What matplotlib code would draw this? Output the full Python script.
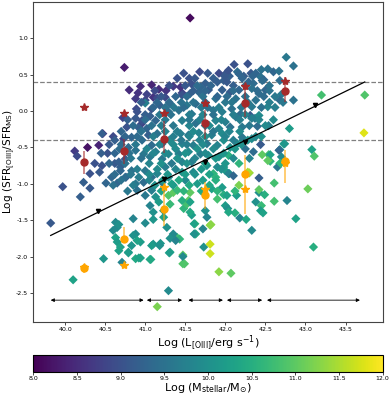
import matplotlib
matplotlib.use("Agg")
import matplotlib.pyplot as plt
import numpy as np

plt.rcParams['axes.unicode_minus'] = False

# individual galaxies: L[OIII], SFR ratio, stellar mass
lum_oiii = [
    41.56, 40.74, 41.68, 40.80, 40.94, 41.08, 41.17, 41.26, 41.35, 41.46, 40.88, 41.00, 41.10, 41.00,
    40.89, 40.77, 40.95, 40.47, 40.60, 40.42, 40.28, 40.12, 40.15, 40.53, 40.73, 40.62, 40.37, 40.43,
    40.31, 40.23, 39.97, 40.51, 40.76, 40.69, 39.82, 40.19, 40.31, 40.10, 40.48, 40.71,
    # lower cloud below the fit
    40.63, 40.65, 40.63, 40.65, 40.69, 40.79, 40.85, 40.88, 40.94, 40.88, 40.94, 41.06, 41.10, 41.19,
    41.31, 41.29, 41.15, 41.47, 41.47, 41.40, 41.43, 41.27, 41.35, 41.62, 41.62, 41.58, 41.48, 41.52,
    41.54, 41.23, 40.67, 40.60, 41.00, 41.10, 40.67, 40.85, 40.90, 40.83, 40.79, 40.92, 41.07, 41.08,
    41.18, 41.30, 41.31, 41.38, 41.47, 41.49, 41.63, 41.73, 41.81, 41.81, 41.81, 41.92, 42.07, 42.18,
    42.26, 42.33, 42.88,
    # right side lower
    41.98, 42.14, 42.42, 42.49, 42.61, 42.77, 43.10, 42.12, 42.00, 42.03, 42.45, 42.44, 42.47, 41.75,
    41.77, 41.72, 41.61, 41.61, 41.82,
    # upper right
    42.76, 42.85, 42.28, 42.11, 42.15, 42.32, 42.44, 42.53, 42.60, 42.67, 41.92, 42.01, 42.05, 41.98,
    42.23, 42.29, 42.48, 42.68, 42.70, 42.68, 42.85, 42.50, 42.53, 42.31, 42.19, 42.37, 42.40, 42.54,
    42.80, 43.20, 43.74, 43.73, 43.08, 43.11, 42.73, 42.68, 42.70, 42.68, 42.54, 42.56, 42.44, 42.46,
    42.42, 42.30, 42.17, 42.17, 42.42, 42.61, 43.03, 41.88, 42.05, 41.98, 42.22, 42.38, 42.56, 42.53,
    42.67, 42.74, 42.65, 42.69,
    # top of the cloud
    40.91, 41.02, 41.15, 41.25, 41.08, 41.18, 40.90, 40.72, 40.88, 40.96, 41.06, 41.13, 40.92, 41.02,
    41.29, 41.31, 41.99, 42.04, 42.17, 42.21, 42.34, 42.45, 41.55, 41.44, 41.58, 41.75, 41.69, 41.90,
    42.02, 42.10, 42.35, 42.46, 41.46, 41.56, 41.67, 41.79, 41.96, 42.06, 42.17, 42.33, 42.42, 42.38,
    41.52, 41.63, 41.88, 42.00, 42.13, 41.42, 41.58, 41.85, 41.96, 42.08, 42.33, 41.46, 41.63, 41.88,
    42.00, 42.13, 42.33, 42.42, 41.92, 42.06, 42.21,
    # middle-left of the cloud
    40.46, 40.46, 40.58, 40.65, 40.67, 40.69, 40.75, 40.75, 40.83, 40.88, 40.92, 40.98, 40.90, 41.00,
    41.08, 41.13, 41.17, 41.06, 41.10, 41.23, 41.31, 41.29, 41.35, 41.00, 41.08, 41.15, 41.21, 41.29,
    41.33, 40.83, 40.96, 41.04, 41.08, 41.15, 41.21, 40.88, 40.98, 41.06, 41.13, 41.21, 41.29, 41.33,
    41.25, 40.79,
    # middle-right of the cloud
    41.44, 41.54, 41.67, 41.83, 41.96, 42.21, 42.33, 41.46, 41.60, 41.77, 41.90, 42.06, 42.15, 42.35,
    41.42, 41.54, 41.69, 41.79, 41.92, 42.04, 41.46, 41.58, 41.77, 41.90, 42.00, 41.85, 42.04, 42.10,
    42.28, 41.46, 41.60, 41.50, 41.40, 41.65, 41.56, 41.83, 41.96, 42.02, 41.46, 41.56, 41.90, 42.04,
    42.38, 41.56,
    # filling of the dense core
    41.40, 41.62, 41.85, 41.30, 41.50, 41.65, 41.82, 42.25, 42.55, 41.20, 41.38, 41.52, 41.72, 41.90,
    42.02, 42.25, 42.48, 42.62, 41.10, 41.25, 41.36, 41.48, 41.70, 41.78, 41.92, 42.20, 42.45, 42.62,
    41.00, 41.18, 41.32, 41.55, 41.72, 41.85, 42.10, 42.25, 40.85, 41.08, 41.20, 41.35, 41.55, 41.75,
    41.80, 42.30, 42.50, 40.70, 40.95, 41.25, 41.40, 41.60, 41.85, 42.05, 42.18, 40.62, 41.30, 41.45,
    41.68, 41.98, 42.10, 42.28, 40.68, 41.02, 41.38, 41.65, 41.85, 42.12, 42.25, 40.82, 40.95, 41.40,
    41.62, 41.88, 42.10, 42.30, 40.90, 41.15, 41.38, 41.70, 41.95, 40.70, 41.05, 41.22, 41.42, 41.72,
    41.88, 40.78, 41.20, 41.48, 41.70, 41.90, 42.12,
    41.48, 41.78, 42.38, 41.12, 41.60, 41.75, 42.10, 42.40, 42.55, 40.95, 41.15, 41.30, 41.45, 41.60,
    41.75, 42.08, 42.28, 42.55, 42.72, 40.78, 41.00, 41.25, 41.55, 41.68, 41.95, 42.18, 42.42, 42.60,
    40.75, 40.90, 41.10, 41.35, 41.55, 41.75, 42.00, 42.45, 40.55, 40.70, 40.88, 41.18, 41.35, 41.52,
    41.72, 42.20, 40.45, 40.62, 40.80, 41.10, 41.25, 41.50, 41.75, 41.98, 40.55, 40.75, 41.05, 41.20,
    41.52, 41.75, 42.00, 40.62, 40.82, 41.05, 41.28, 41.50, 41.62, 41.80, 40.60, 40.85, 41.12, 41.35,
    41.55, 41.80,
]
sfr_ratio = [
    1.28, 0.60, 0.54, 0.29, 0.34, 0.36, 0.30, 0.28, 0.34, 0.25, 0.17, 0.15, 0.19, 0.11,
    0.03, -0.22, -0.18, -0.31, -0.35, -0.47, -0.50, -0.55, -0.62, -0.58, -0.38, -0.72, -0.72, -0.84,
    -0.86, -0.98, -1.04, -0.99, -0.91, -0.77, -1.54, -1.18, -1.06, -2.32, -2.03, -2.08,
    -1.53, -1.60, -1.74, -1.80, -1.87, -1.94, -1.48, -1.69, -1.80, -2.03, -2.02, -2.04, -1.83, -1.82,
    -1.94, -2.47, -2.69, -1.98, -2.10, -1.74, -1.76, -1.60, -1.69, -1.69, -1.55, -1.43, -1.34, -1.28,
    -1.23, -1.46, -1.56, -1.64, -1.54, -1.49, -1.92, -1.71, -1.78, -1.85, -1.95, -2.02, -2.04, -1.85,
    -1.85, -1.95, -1.75, -1.78, -2.00, -2.10, -1.69, -1.87, -1.83, -1.96, -1.57, -2.21, -2.23, -1.47,
    -1.49, -1.64, -1.48,
    -1.15, -1.16, -1.12, -1.15, -1.24, -1.23, -1.87, -1.40, -1.30, -1.34, -1.30, -1.37, -1.40, -1.37,
    -1.46, -1.62, -1.55, -1.69, -1.56,
    0.74, 0.62, 0.65, 0.64, 0.54, 0.52, 0.47, 0.58, 0.54, 0.55, 0.52, 0.52, 0.48, 0.42,
    0.48, 0.40, 0.43, 0.42, 0.23, 0.15, 0.15, 0.29, 0.06, -0.06, -0.04, -0.10, -0.21, -0.20,
    -0.24, 0.22, 0.22, -0.30, -0.53, -0.62, -0.45, -0.53, -0.63, -0.72, -0.60, -0.69, -0.46, -0.60,
    -0.92, -0.85, -0.72, -1.02, -1.08, -0.99, -1.07, -0.91, -0.86, -0.77, -0.40, -0.35, -0.60, -0.68,
    -0.54, -0.45, -0.77, -0.72,
    0.25, 0.23, 0.18, 0.19, 0.03, 0.08, -0.01, -0.09, -0.10, -0.13, -0.07, -0.13, -0.23, -0.24,
    -0.01, 0.10, 0.48, 0.56, 0.51, 0.45, 0.48, 0.57, 0.45, 0.33, 0.37, 0.38, 0.33, 0.40,
    0.40, 0.35, 0.38, 0.42, 0.22, 0.24, 0.26, 0.29, 0.29, 0.26, 0.29, 0.31, 0.24, 0.15,
    0.08, 0.10, 0.17, 0.12, 0.17, 0.01, -0.04, 0.01, -0.01, 0.03, 0.06, -0.13, -0.17, -0.13,
    -0.15, -0.08, -0.10, -0.06, -0.24, -0.22, -0.22,
    -0.31, -0.75, -0.91, -0.99, -0.70, -0.82, -0.66, -0.91, -0.82, -1.00, -0.91, -0.98, -1.09, -1.16,
    -1.09, -1.18, -1.25, -1.30, -1.39, -1.37, -1.28, -1.16, -1.12, -0.82, -0.91, -0.86, -0.98, -0.91,
    -1.00, -0.36, -0.40, -0.33, -0.47, -0.31, -0.45, -0.54, -0.59, -0.63, -0.56, -0.66, -0.59, -0.72,
    -0.77, -0.50,
    -0.31, -0.33, -0.30, -0.33, -0.31, -0.36, -0.38, -0.45, -0.47, -0.45, -0.47, -0.50, -0.45, -0.56,
    -0.59, -0.56, -0.59, -0.61, -0.63, -0.61, -0.70, -0.70, -0.75, -0.77, -0.82, -0.86, -0.86, -0.89,
    -0.84, -0.84, -0.84, -0.95, -1.09, -1.00, -1.12, -1.07, -1.05, -1.16, -1.23, -1.25, -1.21, -1.39,
    -1.25, -1.39,
    0.45, 0.45, 0.45, 0.35, 0.35, 0.35, 0.35, 0.35, 0.35, 0.20, 0.20, 0.20, 0.20, 0.20,
    0.20, 0.20, 0.20, 0.20, 0.05, 0.05, 0.05, 0.05, 0.05, 0.05, 0.05, 0.05, 0.05, 0.05,
    -0.05, -0.05, -0.05, -0.05, -0.05, -0.05, -0.05, -0.05, -0.20, -0.20, -0.20, -0.20, -0.20, -0.20,
    -0.20, -0.20, -0.20, -0.28, -0.28, -0.28, -0.28, -0.28, -0.28, -0.28, -0.28, -0.40, -0.40, -0.40,
    -0.40, -0.40, -0.40, -0.40, -0.52, -0.52, -0.52, -0.52, -0.52, -0.52, -0.52, -0.65, -0.65, -0.65,
    -0.65, -0.65, -0.65, -0.65, -0.80, -0.80, -0.80, -0.80, -0.80, -0.95, -0.95, -0.95, -0.95, -0.95,
    -0.95, -1.10, -1.10, -1.10, -1.10, -1.10, -1.10,
    0.52, 0.52, 0.52, 0.28, 0.28, 0.28, 0.28, 0.28, 0.28, 0.12, 0.12, 0.12, 0.12, 0.12,
    0.12, 0.12, 0.12, 0.12, 0.12, -0.12, -0.12, -0.12, -0.12, -0.12, -0.12, -0.12, -0.12, -0.12,
    -0.35, -0.35, -0.35, -0.35, -0.35, -0.35, -0.35, -0.35, -0.46, -0.46, -0.46, -0.46, -0.46, -0.46,
    -0.46, -0.46, -0.58, -0.58, -0.58, -0.58, -0.58, -0.58, -0.58, -0.58, -0.72, -0.72, -0.72, -0.72,
    -0.72, -0.72, -0.72, -0.87, -0.87, -0.87, -0.87, -0.87, -0.87, -0.87, -1.02, -1.02, -1.02, -1.02,
    -1.02, -1.02,
]
log_mass = [
    8.1, 8.3, 8.9, 8.5, 8.5, 8.4, 8.5, 8.6, 8.7, 8.8, 8.7, 8.9, 8.6, 9.7,
    8.9, 9.0, 8.8, 8.6, 8.9, 8.4, 8.2, 8.7, 8.9, 9.0, 8.8, 9.1, 9.0, 9.1,
    9.0, 9.2, 9.0, 9.3, 9.1, 9.2, 9.1, 9.2, 9.1, 10.3, 10.1, 9.8,
    9.9, 9.9, 10.3, 10.2, 10.3, 10.2, 9.8, 9.9, 10.2, 10.4, 10.3, 10.4, 10.1, 10.1,
    10.3, 9.9, 11.2, 11.0, 10.9, 10.8, 10.6, 10.0, 9.9, 10.4, 10.7, 10.2, 10.6, 10.8,
    11.0, 10.3, 10.0, 9.9, 9.9, 10.1, 10.3, 10.0, 10.3, 10.1, 10.2, 10.3, 10.4, 10.2,
    10.0, 10.2, 10.0, 9.8, 9.9, 10.9, 10.4, 10.0, 11.7, 11.7, 11.3, 11.3, 11.0, 9.8,
    10.4, 9.9, 10.3,
    10.5, 10.2, 10.0, 10.5, 10.8, 9.8, 10.5, 10.5, 10.2, 10.0, 10.7, 10.2, 10.3, 10.0,
    9.8, 9.8, 10.3, 10.0, 11.3,
    9.6, 9.5, 9.0, 9.0, 9.4, 9.1, 9.5, 9.5, 9.3, 9.5, 8.9, 9.0, 9.2, 9.2,
    9.2, 9.3, 9.3, 9.4, 9.6, 9.4, 9.5, 9.3, 9.8, 9.1, 9.4, 9.6, 9.4, 9.7,
    10.2, 10.8, 10.9, 11.8, 10.3, 10.9, 10.3, 9.8, 9.9, 10.6, 10.8, 10.6, 9.1, 11.0,
    9.2, 11.4, 10.6, 11.2, 11.0, 10.8, 11.1, 10.6, 10.0, 10.1, 9.8, 9.9, 10.3, 11.0,
    9.3, 10.1, 9.6, 10.6,
    8.6, 8.8, 8.9, 8.9, 9.0, 9.2, 9.0, 8.8, 9.1, 9.0, 9.2, 9.3, 9.2, 9.3,
    9.4, 9.5, 9.1, 9.0, 9.3, 9.3, 9.3, 9.5, 9.0, 8.6, 9.0, 9.2, 9.3, 9.2,
    9.1, 9.2, 9.4, 9.4, 9.0, 9.2, 9.3, 9.1, 9.2, 9.1, 9.3, 9.5, 9.4, 9.5,
    9.6, 9.4, 9.5, 9.6, 9.5, 9.5, 9.6, 9.6, 9.7, 9.5, 9.6, 9.7, 9.5, 9.8,
    9.7, 9.6, 9.7, 9.9, 9.8, 9.5, 9.6,
    9.2, 9.0, 9.3, 9.3, 9.2, 9.3, 9.1, 9.4, 9.5, 9.6, 9.7, 9.4, 9.5, 9.6,
    9.7, 10.0, 10.2, 9.8, 10.0, 10.1, 10.7, 10.9, 11.0, 9.6, 9.5, 9.8, 9.7, 9.9,
    10.3, 9.3, 9.4, 9.2, 9.4, 9.5, 9.5, 9.5, 9.6, 9.6, 9.7, 9.6, 9.8, 9.6,
    9.7, 9.4,
    9.7, 9.6, 9.8, 9.7, 9.9, 9.6, 9.9, 9.8, 9.7, 9.6, 9.8, 10.0, 9.9, 9.4,
    9.7, 9.9, 9.7, 10.0, 10.0, 10.5, 9.8, 9.7, 10.0, 9.9, 10.2, 10.6, 9.8, 9.3,
    11.5, 10.0, 9.9, 9.9, 10.7, 10.2, 11.0, 10.3, 10.2, 10.3, 10.5, 10.3, 10.8, 10.4,
    10.0, 10.4,
    9.0, 9.1, 9.2, 9.0, 9.1, 9.4, 9.3, 9.4, 9.5, 9.1, 9.3, 9.4, 9.5, 9.3,
    9.4, 9.5, 9.4, 9.6, 9.3, 9.5, 9.6, 9.4, 9.6, 9.5, 9.7, 9.6, 9.5, 9.7,
    9.2, 9.6, 9.5, 9.7, 9.8, 9.5, 9.7, 9.8, 9.4, 9.5, 9.7, 9.6, 9.8, 9.7,
    9.9, 9.6, 9.9, 9.3, 9.5, 9.8, 9.7, 9.9, 9.6, 9.8, 9.9, 9.2, 9.9, 9.6,
    9.8, 10.0, 9.7, 10.0, 9.4, 9.8, 9.9, 10.0, 9.9, 10.1, 9.5, 9.6, 9.5, 10.0,
    9.8, 10.1, 9.9, 9.8, 9.7, 9.9, 9.8, 10.1, 10.0, 9.5, 9.8, 10.1, 10.4, 10.2,
    10.5, 9.6, 10.3, 10.6, 10.4, 10.6, 10.6,
    9.0, 9.1, 9.3, 8.9, 9.2, 9.3, 9.4, 9.4, 9.5, 9.2, 9.3, 9.4, 9.5, 9.5,
    9.4, 9.6, 9.6, 9.7, 9.6, 9.2, 9.4, 9.6, 9.6, 9.7, 9.8, 9.7, 9.8, 9.9,
    9.3, 9.4, 9.7, 9.7, 9.8, 10.0, 9.8, 10.0, 9.1, 9.4, 9.6, 9.8, 9.9, 9.7,
    9.9, 10.0, 9.2, 9.3, 9.5, 9.8, 9.9, 10.0, 9.9, 10.1, 9.3, 9.5, 9.8, 10.0,
    10.0, 10.2, 10.1, 9.4, 9.6, 9.9, 10.1, 10.2, 10.0, 10.3, 9.5, 9.7, 10.0, 10.2,
    10.4, 10.4,
]

# fit line and binned medians on it
fit_lum = [39.82, 43.74]
fit_sfr = [-1.71, 0.40]
tri_lum = [40.41, 41.24, 41.75, 42.25, 43.12]
tri_sfr = [-1.38, -0.94, -0.70, -0.42, 0.08]

# binned stacks
bin_lum = [40.24, 40.74, 41.24, 41.74, 42.25, 42.75]
red_sfr = [-0.70, -0.545, -0.39, -0.16, 0.115, 0.28]
red_err_lo = [0.17, 0.185, 0.19, 0.22, 0.195, 0.16]
red_err_hi = [0.15, 0.155, 0.25, 0.18, 0.205, 0.19]
red_star = [0.05, -0.02, -0.02, 0.115, 0.35, 0.42]
orange_sfr = [-2.16, -1.76, -1.34, -1.16, -0.87, -0.69]
orange_err_lo = [0.06, 0.06, 0.24, 0.18, 0.54, 0.30]
orange_err_hi = [0.06, 0.17, 0.24, 0.18, 0.26, 0.15]
orange_star = [-2.14, -2.11, -1.05, -1.07, -1.07, -0.72]

# luminosity bins (arrows)
bin_lo = [39.82, 41.02, 41.54, 42.02, 42.52]
bin_hi = [40.98, 41.46, 41.97, 42.46, 43.68]

fig = plt.figure(figsize=(3.89, 3.97), dpi=100)
ax = fig.add_axes([0.085, 0.189, 0.90, 0.806])

sc = ax.scatter(lum_oiii, sfr_ratio, c=log_mass, cmap='viridis', vmin=8, vmax=12,
                marker='D', s=22, edgecolors='none', zorder=2)

ax.axhline(0.4, color='grey', ls='--', lw=0.9, zorder=1)
ax.axhline(-0.4, color='grey', ls='--', lw=0.9, zorder=1)

ax.plot(fit_lum, fit_sfr, color='black', lw=0.9, zorder=3)
ax.plot(tri_lum, tri_sfr, 'v', color='black', ms=3, zorder=3)

ax.errorbar(bin_lum, red_sfr, yerr=[red_err_lo, red_err_hi], fmt='none',
            ecolor='brown', alpha=0.7, elinewidth=1.1, zorder=4)
ax.plot(bin_lum, red_sfr, 'o', color='brown', ms=5, zorder=5)
ax.plot(bin_lum, red_star, '*', color='brown', ms=6, zorder=5)

ax.errorbar(bin_lum, orange_sfr, yerr=[orange_err_lo, orange_err_hi], fmt='none',
            ecolor='orange', alpha=0.7, elinewidth=1.1, zorder=4)
ax.plot(bin_lum, orange_sfr, 'o', color='orange', ms=5, zorder=5)
ax.plot(bin_lum, orange_star, '*', color='orange', ms=6, zorder=5)

for lo, hi in zip(bin_lo, bin_hi):
    ax.annotate('', xy=(hi, -2.6), xytext=(lo, -2.6),
                arrowprops=dict(arrowstyle='<|-|>', color='black', lw=0.6,
                                mutation_scale=5, shrinkA=0, shrinkB=0))

ax.set_xlim(39.6, 43.97)
ax.set_ylim(-2.9, 1.5)
ax.set_xticks([40.0, 40.5, 41.0, 41.5, 42.0, 42.5, 43.0, 43.5])
ax.set_yticks([-2.5, -2.0, -1.5, -1.0, -0.5, 0.0, 0.5, 1.0])
ax.tick_params(labelsize=4.5, length=2, width=0.5, pad=1.5)
for sp in ax.spines.values():
    sp.set_linewidth(0.8)
    sp.set_color('#444444')
ax.set_xlabel(r'Log (L$_{\rm [OIII]}$/erg s$^{-1}$)', fontsize=8, labelpad=1)
ax.set_ylabel(r'Log (SFR$_{\rm [OIII]}$/SFR$_{\rm MS}$)', fontsize=7.6)
ax.yaxis.set_label_coords(-0.046, 0.5)

cax = fig.add_axes([0.0857, 0.064, 0.898, 0.042])
cb = fig.colorbar(sc, cax=cax, orientation='horizontal')
cb.set_ticks([8.0, 8.5, 9.0, 9.5, 10.0, 10.5, 11.0, 11.5, 12.0])
cb.ax.tick_params(labelsize=4.5, length=2, width=0.5, pad=1.5)
cb.outline.set_linewidth(0.8)
cb.set_label(r'Log (M$_{\rm stellar}$/M$_{\odot}$)', fontsize=8, labelpad=0)

plt.savefig('out.png', dpi=100)
